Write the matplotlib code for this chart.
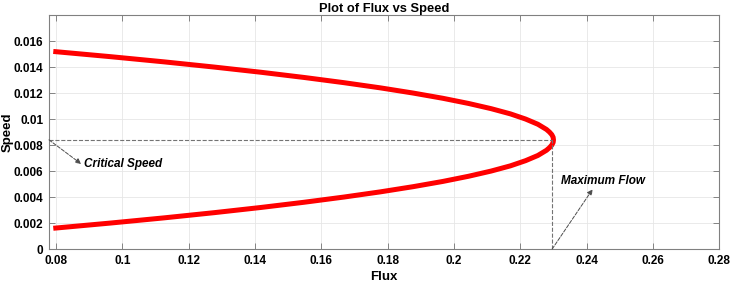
import numpy as np
import matplotlib.pyplot as plt

plt.rcParams['font.family'] = ['Liberation Sans', 'DejaVu Sans']

# speed values and the flux
speed = [0.0016, 0.0020, 0.0024, 0.0028, 0.0032, 0.0036, 0.0040, 0.0044,
         0.0048, 0.0052, 0.0056, 0.0060, 0.0064, 0.0068, 0.0072, 0.0076,
         0.0078, 0.0080, 0.0082, 0.0084, 0.0086, 0.0088, 0.0090, 0.0092,
         0.0096, 0.0100, 0.0104, 0.0108, 0.0112, 0.0116, 0.0120, 0.0124,
         0.0128, 0.0132, 0.0136, 0.0140, 0.0144, 0.0148, 0.0152]
flux = [0.0792, 0.0964, 0.1126, 0.1277, 0.1418, 0.1548, 0.1668, 0.1778,
        0.1877, 0.1966, 0.2044, 0.2112, 0.2170, 0.2216, 0.2253, 0.2279,
        0.2288, 0.2295, 0.2299, 0.2300, 0.2299, 0.2295, 0.2288, 0.2279,
        0.2253, 0.2216, 0.2170, 0.2112, 0.2044, 0.1966, 0.1877, 0.1778,
        0.1668, 0.1548, 0.1418, 0.1277, 0.1126, 0.0964, 0.0792]

critical_speed = 0.0084
max_flow = 0.2296

xticks = [0.08, 0.1, 0.12, 0.14, 0.16, 0.18, 0.2, 0.22, 0.24, 0.26, 0.28]
xlabels = ['0.08', '0.1', '0.12', '0.14', '0.16', '0.18', '0.2', '0.22', '0.24', '0.26', '0.28']
yticks = [0, 0.002, 0.004, 0.006, 0.008, 0.01, 0.012, 0.014, 0.016]
ylabels = ['0', '0.002', '0.004', '0.006', '0.008', '0.01', '0.012', '0.014', '0.016']

fig = plt.figure(figsize=(7.31, 2.84), dpi=100)
ax = fig.add_axes([0.067, 0.123, 0.917, 0.824])

ax.plot(flux, speed, color='red', lw=3.6, solid_capstyle='butt')

xmin = 0.0779
ax.set_xlim(xmin, 0.28)
ax.set_ylim(0, 0.018)

# guide lines
ax.plot([xmin, max_flow], [critical_speed, critical_speed], ls='--', color='0.45', lw=0.8)
ax.plot([max_flow, max_flow], [0, critical_speed], ls='--', color='0.45', lw=0.8)

arrow = dict(arrowstyle='-|>', linestyle='--', color='0.3', lw=0.7,
             mutation_scale=8, shrinkA=0, shrinkB=0)
ax.annotate('', xy=(0.0876, 0.00655), xytext=(xmin, critical_speed), arrowprops=arrow)
ax.text(0.0884, 0.00655, 'Critical Speed', fontsize=8.5, fontweight='bold',
        fontstyle='italic', va='center', ha='left')
ax.annotate('', xy=(0.2418, 0.0046), xytext=(max_flow, 0), arrowprops=arrow)
ax.text(0.2322, 0.0052, 'Maximum Flow', fontsize=8.5, fontweight='bold',
        fontstyle='italic', va='center', ha='left')

ax.set_xticks(xticks)
ax.set_xticklabels(xlabels)
ax.set_yticks(yticks)
ax.set_yticklabels(ylabels)
ax.tick_params(direction='in', top=True, right=True, length=4, width=0.6,
               color='0.45', labelsize=8.5, pad=4)
for lab in ax.get_xticklabels() + ax.get_yticklabels():
    lab.set_fontweight('bold')
ax.grid(True, color='0.9', lw=0.6)
ax.set_axisbelow(True)
for s in ax.spines.values():
    s.set_color('0.5')
    s.set_linewidth(0.8)

ax.set_xlabel('Flux', fontsize=9.5, fontweight='bold', labelpad=3)
ax.set_ylabel('Speed', fontsize=9.5, fontweight='bold')
ax.yaxis.set_label_coords(-0.052, 0.5)
ax.set_title('Plot of Flux vs Speed', fontsize=9.3, fontweight='bold', pad=2)

fig.savefig('out.png', dpi=100)
